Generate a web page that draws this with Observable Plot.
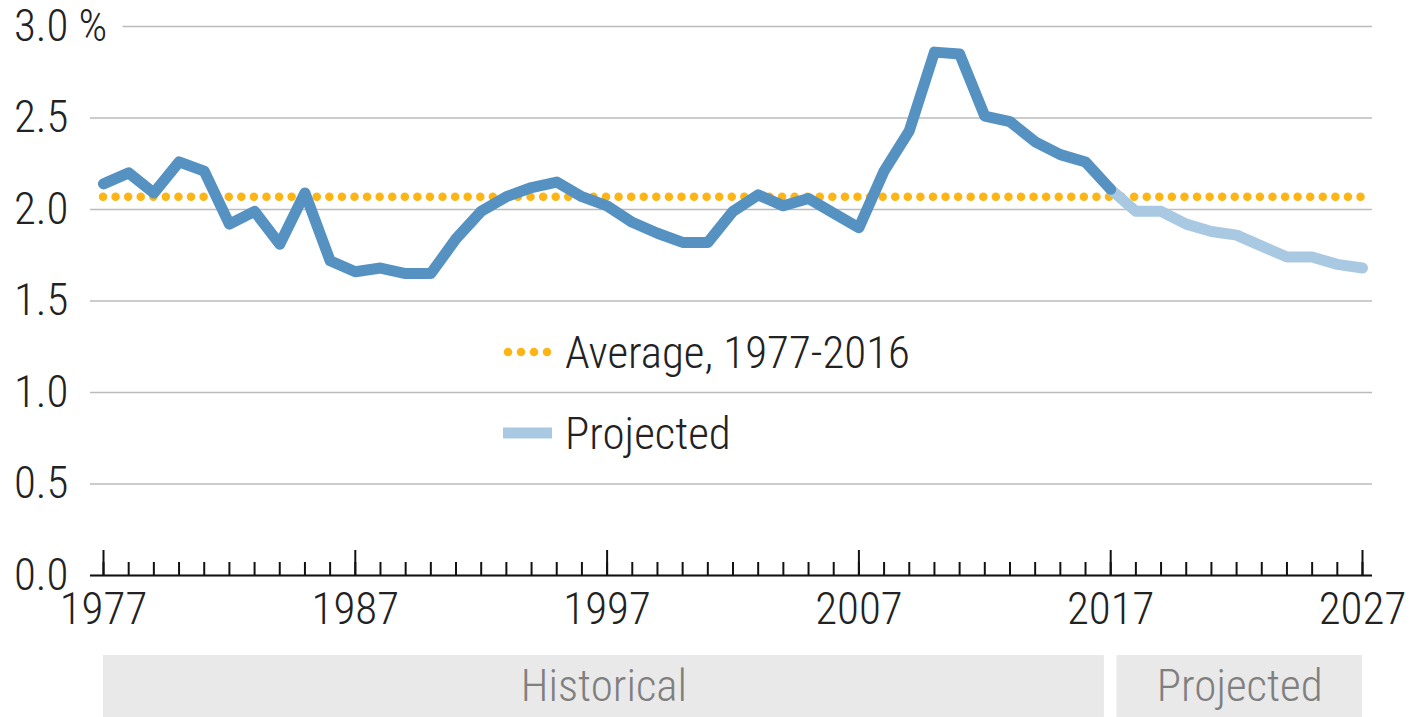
<!DOCTYPE html>
<html><head><meta charset="utf-8">
<script src="https://cdn.jsdelivr.net/npm/d3@7"></script>
<script src="https://cdn.jsdelivr.net/npm/@observablehq/plot@0.6"></script>
<style>body{margin:0;background:#fff} svg{display:block}</style>
</head><body><div id="chart"></div>
<script>
// ---- data ----
const histYears = [1977,1978,1979,1980,1981,1982,1983,1984,1985,1986,1987,1988,1989,1990,1991,1992,1993,1994,1995,1996,1997,1998,1999,2000,2001,2002,2003,2004,2005,2006,2007,2008,2009,2010,2011,2012,2013,2014,2015,2016,2017];
const histValues = [2.14,2.20,2.09,2.26,2.21,1.92,1.99,1.81,2.09,1.72,1.66,1.68,1.65,1.65,1.84,1.99,2.07,2.12,2.15,2.07,2.02,1.93,1.87,1.82,1.82,1.99,2.08,2.02,2.06,1.98,1.90,2.21,2.43,2.86,2.85,2.51,2.48,2.37,2.30,2.26,2.11];
const projYears = [2017,2018,2019,2020,2021,2022,2023,2024,2025,2026,2027];
const projValues = [2.11,1.99,1.99,1.92,1.88,1.86,1.80,1.74,1.74,1.70,1.68];
const average = 2.07;
const averageLabel = "Average, 1977-2016";
const projectedLabel = "Projected";
const yTicks = [0, 0.5, 1.0, 1.5, 2.0, 2.5, 3.0];
const xLabelYears = [1977, 1987, 1997, 2007, 2017, 2027];
const xTickYears = d3.range(1977, 2028);
const periodLabels = ["Historical", "Projected"];
const periodStarts = [1977, 2017.25];
const periodEnds = [2016.75, 2027];

// ---- build ----
const hist = histYears.map((x, i) => ({x, y: histValues[i]}));
const proj = projYears.map((x, i) => ({x, y: projValues[i]}));
const periods = periodLabels.map((label, i) => ({label, start: periodStarts[i], end: periodEnds[i]}));

const FONT = "'Roboto Condensed','Liberation Sans Narrow','DejaVu Sans Condensed',Roboto,sans-serif";
const FS = 45;
const W = 1410, H = 717, MT = 26, MB = 142, ML = 90, MR = 38;
const frameH = H - MT - MB;
const DARK = "#5592c1", LIGHT = "#a9c9e2", ORANGE = "#fdb515";

function legend(index, scales, values, dims) {
  const g = d3.create("svg:g").attr("font-family", FONT).attr("font-size", FS)
    .attr("font-weight", 300).attr("fill", "#222").attr("text-anchor", "start");
  g.append("line").attr("x1", 508).attr("x2", 548).attr("y1", 352).attr("y2", 352)
    .attr("stroke", ORANGE).attr("stroke-width", 8.5).attr("stroke-linecap", "round").attr("stroke-dasharray", "0 13");
  g.append("text").attr("x", 565).attr("y", 352).attr("dy", "0.35em").text(averageLabel);
  g.append("line").attr("x1", 503).attr("x2", 552).attr("y1", 433).attr("y2", 433)
    .attr("stroke", LIGHT).attr("stroke-width", 11);
  g.append("text").attr("x", 565).attr("y", 433).attr("dy", "0.35em").text(projectedLabel);
  return g.node();
}

const chart = Plot.plot({
  width: W, height: H,
  marginTop: MT, marginBottom: MB, marginLeft: ML, marginRight: MR,
  style: {fontFamily: FONT, fontSize: FS + "px", fontWeight: 300, color: "#222", background: "#fff", overflow: "visible"},
  x: {domain: [1977, 2027], insetLeft: 13, insetRight: 10},
  y: {domain: [0, 3]},
  marks: [
    Plot.gridY(yTicks, {stroke: "#bbb", strokeOpacity: 1, strokeWidth: 1.6}),
    Plot.text(["%"], {y: [yTicks[yTicks.length - 1]], frameAnchor: "left", dx: -12, textAnchor: "start",
      lineAnchor: "middle", fontSize: FS, fill: "#222", stroke: "white", strokeWidth: 36}),
    Plot.axisY({ticks: yTicks, tickSize: 0, tickPadding: 22, tickFormat: d3.format(".1f"), label: null, fontSize: FS}),
    Plot.ruleY([average], {x1: histYears[0], x2: projYears[projYears.length - 1], stroke: ORANGE,
      strokeWidth: 8.5, strokeDasharray: "0 12.575", strokeLinecap: "round"}),
    Plot.line(proj, {x: "x", y: "y", stroke: LIGHT, strokeWidth: 11, strokeLinejoin: "round", strokeLinecap: "round"}),
    Plot.line(hist, {x: "x", y: "y", stroke: DARK, strokeWidth: 11, strokeLinejoin: "round", strokeLinecap: "round"}),
    Plot.ruleY([0], {stroke: "#111", strokeWidth: 2}),
    Plot.ruleX(xTickYears, {stroke: "#111", strokeWidth: 2, insetTop: frameH - 13}),
    Plot.ruleX(xLabelYears, {stroke: "#111", strokeWidth: 2, insetTop: frameH - 25}),
    Plot.axisX({ticks: xLabelYears, tickSize: 0, tickPadding: 17, tickFormat: d => String(d), label: null, fontSize: FS}),
    Plot.rect(periods, {x1: "start", x2: "end", fill: "#e9e9e9", insetTop: 629, insetBottom: -142}),
    Plot.text(periods, {x: d => (d.start + d.end) / 2, text: "label", frameAnchor: "bottom", lineAnchor: "middle", dy: 111,
      fill: "#7f7f7f", fontSize: FS}),
    legend
  ]
});
document.getElementById("chart").appendChild(chart);
</script>
</body></html>
